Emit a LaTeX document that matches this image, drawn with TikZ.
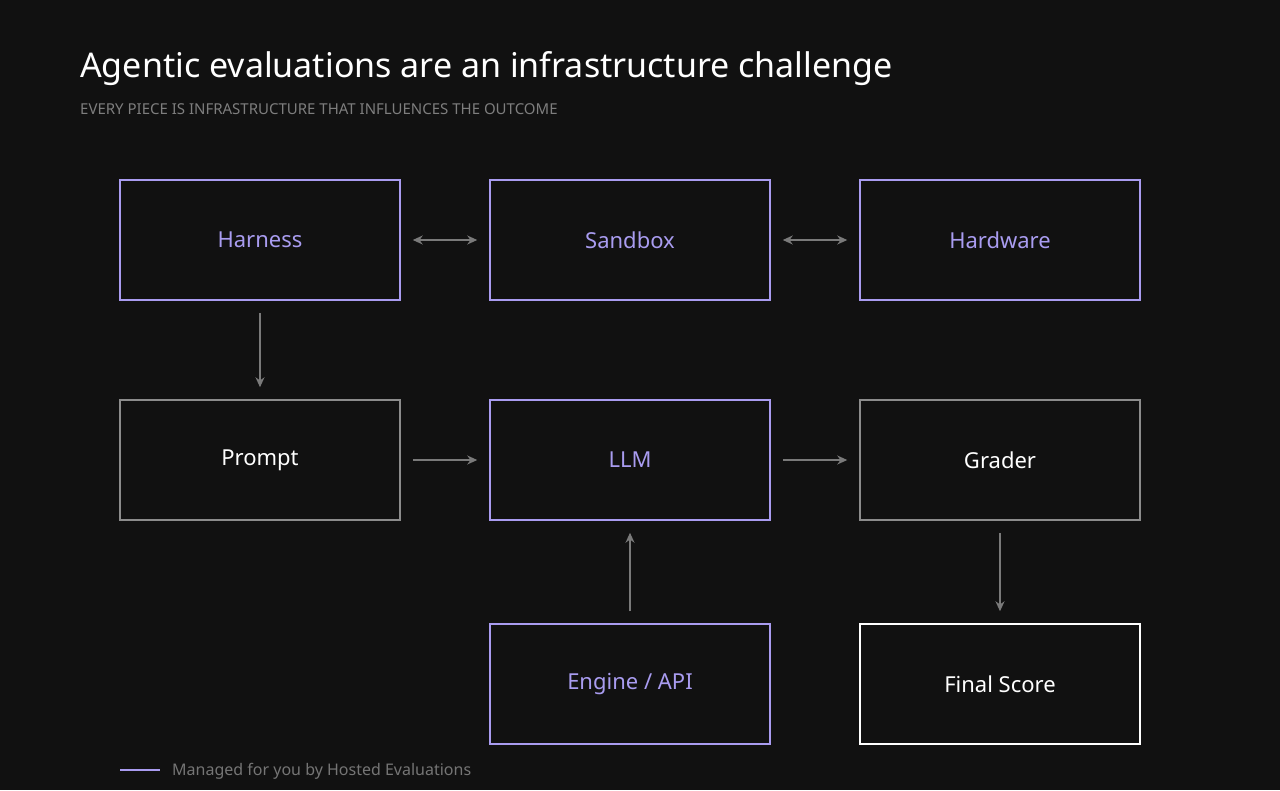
\documentclass[tikz,border=0pt]{standalone}
\usepackage{fontspec}
\setmainfont{Noto Sans}
\usetikzlibrary{arrows.meta}
\definecolor{bg}{HTML}{111111}
\definecolor{pur}{HTML}{A99CF0}
\definecolor{gbox}{HTML}{8C8C8C}
\definecolor{arr}{HTML}{7A7A7A}
\definecolor{sub}{HTML}{7E7E7E}
\begin{document}
\begin{tikzpicture}[x=1pt,y=-1pt,
  box/.style={draw=pur,line width=1.5pt,minimum width=280pt,minimum height=120pt,inner sep=0,font=\fontsize{22}{26}\selectfont,text=pur},
  gb/.style={box,draw=gbox,text=white},
  wb/.style={box,draw=white,text=white},
  ar/.style={draw=arr,line width=1.2pt,-{Stealth[length=10pt,width=9pt]}},
  dar/.style={ar,{Stealth[length=10pt,width=9pt]}-{Stealth[length=10pt,width=9pt]}}]
\fill[bg] (0,0) rectangle (1280,790);
\useasboundingbox (0,0) rectangle (1280,790);
\node[anchor=base west,text=white,font=\fontsize{34}{40}\selectfont,inner sep=0] (t) at (80,77) {Agentic evaluations are an infrastructure challenge};
\node[anchor=base west,text=sub,font=\fontsize{15}{18}\selectfont,inner sep=0] (s) at (80,114) {EVERY PIECE IS INFRASTRUCTURE THAT INFLUENCES THE OUTCOME};
\node[box] (h) at (260,240) {Harness};
\node[box] (sb) at (630,240) {Sandbox};
\node[box] (hw) at (1000,240) {Hardware};
\node[gb] (p) at (260,460) {Prompt};
\node[box] (l) at (630,460) {LLM};
\node[gb] (g) at (1000,460) {Grader};
\node[box] (e) at (630,684) {Engine / API};
\node[wb] (f) at (1000,684) {Final Score};
\draw[dar] ([xshift=12pt]h.east) -- ([xshift=-12pt]sb.west);
\draw[dar] ([xshift=12pt]sb.east) -- ([xshift=-12pt]hw.west);
\draw[ar] ([yshift=-12pt]h.south) -- ([yshift=12pt]p.north);
\draw[ar] ([xshift=12pt]p.east) -- ([xshift=-12pt]l.west);
\draw[ar] ([xshift=12pt]l.east) -- ([xshift=-12pt]g.west);
\draw[ar] ([yshift=12pt]e.north) -- ([yshift=-12pt]l.south);
\draw[ar] ([yshift=-12pt]g.south) -- ([yshift=12pt]f.north);
\coordinate (la) at (120,770);
\coordinate (lb) at (160,770);
\draw[pur,line width=1.5pt] (la) -- (lb);
\node[anchor=west,text=gbox!120,font=\fontsize{16}{18}\selectfont,inner sep=0] (lt) at (172,771) {Managed for you by Hosted Evaluations};
\end{tikzpicture}
\end{document}
